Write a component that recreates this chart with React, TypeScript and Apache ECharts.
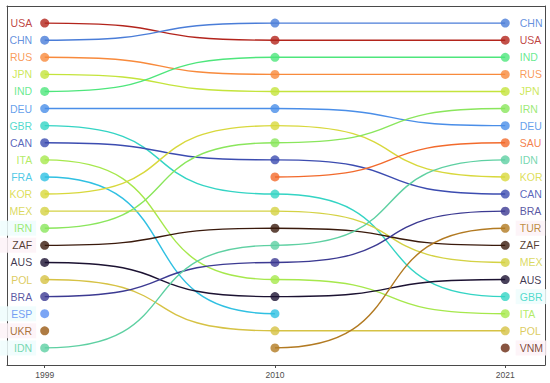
import React, { useEffect, useRef } from "react";
import * as echarts from "echarts";

const years = [1999, 2010, 2021];
const countries = ["USA", "CHN", "RUS", "JPN", "IND", "DEU", "GBR", "CAN", "ITA", "FRA", "KOR", "MEX", "IRN", "ZAF", "AUS", "POL", "BRA", "ESP", "UKR", "IDN", "SAU", "TUR", "VNM"];
const rank1999 = [1, 2, 3, 4, 5, 6, 7, 8, 9, 10, 11, 12, 13, 14, 15, 16, 17, 18, 19, 20, null, null, null];
const rank2010 = [2, 1, 4, 5, 3, 6, 11, 9, 16, 18, 7, 12, 8, 13, 17, 19, 15, null, null, 14, 10, 20, null];
const rank2021 = [2, 1, 4, 5, 3, 7, 17, 11, 18, null, 10, 15, 6, 14, 16, 19, 12, null, null, 9, 8, 13, 20];
const colors = ["#b3241c", "#4a7dd8", "#f88a3c", "#c4e43c", "#4ee67c", "#4a8ee8", "#34d4c4", "#3c4cb0", "#a6e84c", "#30c0e2", "#d8d83c", "#d4d244", "#8ae65c", "#3a1a0c", "#1c1232", "#d6c244", "#3c3a92", "#5a8ef2", "#9a5a14", "#5ed0a2", "#f26a2c", "#b27a22", "#6a2a12"];
const labelBg1999: Record<string, string> = { IRN: "#effdfd", ZAF: "#fdf2f7", ESP: "#effdfd", UKR: "#fdf2f7", IDN: "#effdfd" };
const labelBg2021: Record<string, string> = { TUR: "#fdf2f7", GBR: "#effdfd", VNM: "#fdf2f7" };

export default function App() {
  const ref = useRef<HTMLDivElement>(null);
  useEffect(() => {
    if (!ref.current) return;
    document.body.style.margin = "0";
    const chart = echarts.init(ref.current, null, { renderer: "svg" });
    const ranks = [rank1999, rank2010, rank2021];
    const segments: any[] = [];
    countries.forEach((c, i) => {
      for (let k = 0; k < 2; k++) {
        const a = ranks[k][i];
        const b = ranks[k + 1][i];
        if (a != null && b != null) segments.push([years[k], a, years[k + 1], b, i]);
      }
    });
    const points: any[] = [];
    countries.forEach((c, i) => {
      ranks.forEach((r, k) => {
        const v = r[i];
        if (v == null) return;
        const item: any = { name: c, value: [years[k], v], itemStyle: { color: colors[i] } };
        if (k === 0) {
          const bg = labelBg1999[c];
          item.label = {
            show: true, position: "left", distance: bg ? 4 : 8, color: colors[i], opacity: 0.85,
            backgroundColor: bg || "transparent", padding: bg ? [2, 4, 2, 14] : 0,
          };
        } else if (k === 2) {
          const bg = labelBg2021[c];
          item.label = {
            show: true, position: "right", distance: bg ? 6 : 10, color: colors[i], opacity: 0.85,
            backgroundColor: bg || "transparent", padding: bg ? [2, 4, 2, 4] : 0,
          };
        }
        points.push(item);
      });
    });
    const border = { show: true, onZero: false, lineStyle: { color: "#4a4a4a", width: 1 } };
    chart.setOption({
      animation: false,
      grid: { left: 7, right: 5, top: 6, bottom: 18, outerBoundsMode: "none", containLabel: false },
      xAxis: [
        {
          type: "value", min: 1997.2, max: 2022.9, position: "bottom",
          splitLine: { show: false },
          axisLine: border,
          axisTick: { show: true, customValues: years, length: 3, lineStyle: { color: "#4a4a4a" } },
          axisLabel: { customValues: years, color: "#4d4d4d", fontSize: 8.5, fontFamily: "Liberation Sans", margin: 5, formatter: (v: number) => String(v) },
        },
        {
          type: "value", min: 1997.2, max: 2022.9, position: "top",
          splitLine: { show: false }, axisLine: border, axisTick: { show: false }, axisLabel: { show: false },
        },
      ],
      yAxis: [
        { type: "value", inverse: true, min: 0, max: 21, position: "left", splitLine: { show: false }, axisLine: border, axisTick: { show: false }, axisLabel: { show: false } },
        { type: "value", inverse: true, min: 0, max: 21, position: "right", splitLine: { show: false }, axisLine: border, axisTick: { show: false }, axisLabel: { show: false } },
      ],
      series: [
        {
          type: "custom",
          data: segments,
          encode: { x: [0, 2], y: [1, 3] },
          z: 1,
          renderItem: (params: any, api: any) => {
            const p1 = api.coord([api.value(0), api.value(1)]);
            const p2 = api.coord([api.value(2), api.value(3)]);
            const dx = p2[0] - p1[0];
            const a = 0.65;
            return {
              type: "bezierCurve",
              shape: { x1: p1[0], y1: p1[1], x2: p2[0], y2: p2[1], cpx1: p1[0] + a * dx, cpy1: p1[1], cpx2: p2[0] - a * dx, cpy2: p2[1] },
              style: { stroke: colors[api.value(4)], lineWidth: 1.4, fill: null },
            };
          },
        },
        {
          type: "scatter",
          data: points,
          symbolSize: 9,
          z: 2,
          label: { show: false, formatter: "{b}", fontSize: 10.5, fontFamily: "Liberation Sans" },
        },
      ],
    });
    return () => chart.dispose();
  }, []);
  return <div ref={ref} style={{ width: 550, height: 383 }} />;
}
